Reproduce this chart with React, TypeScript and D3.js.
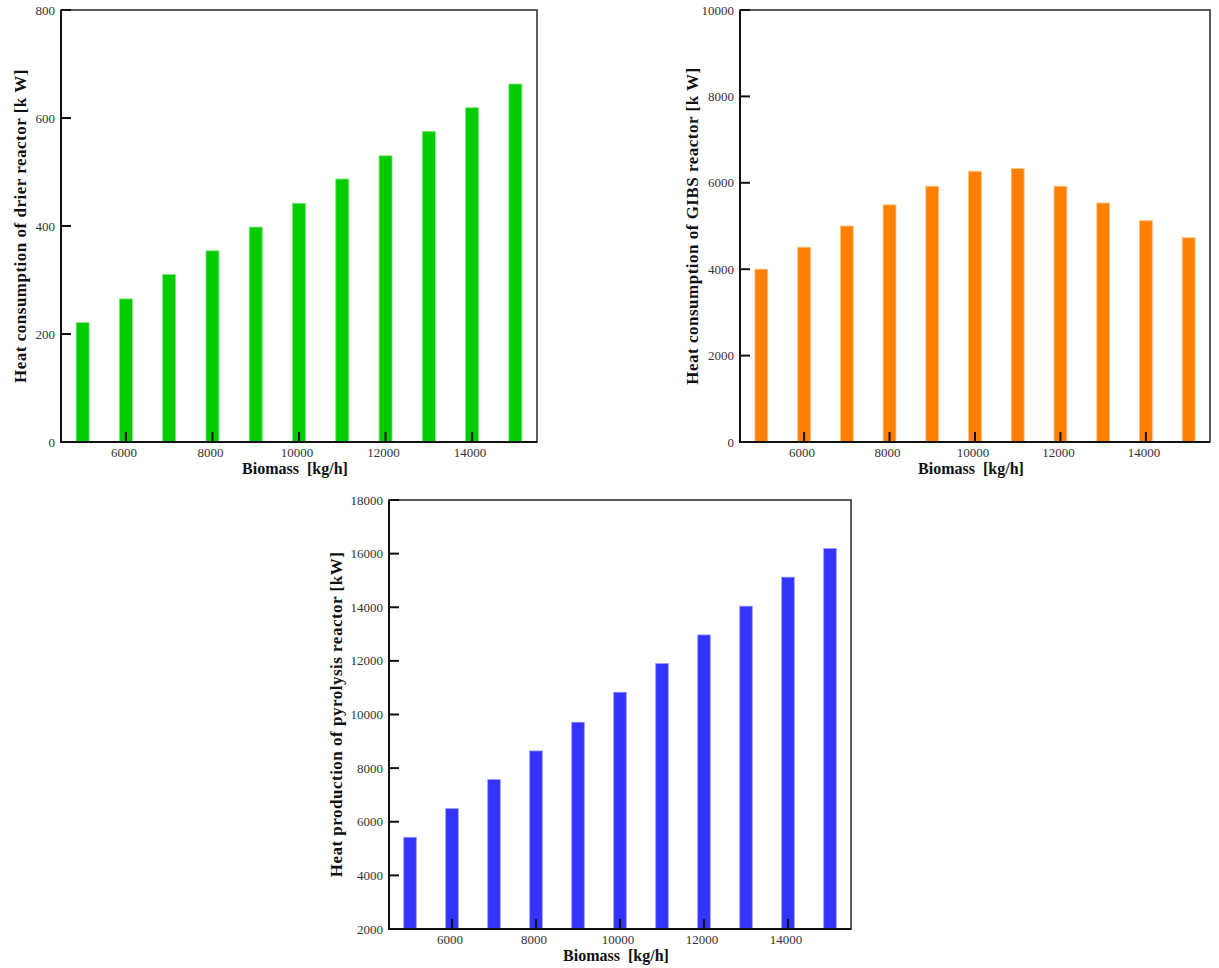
import React from "react";
import * as d3 from "d3";

const biomass = [5000, 6000, 7000, 8000, 9000, 10000, 11000, 12000, 13000, 14000, 15000];
const drierHeat = [221, 265, 310, 354, 398, 442, 487, 530, 575, 619, 663];
const gibbsHeat = [4000, 4510, 5000, 5490, 5920, 6267, 6327, 5920, 5532, 5122, 4728];
const pyrolysisHeat = [5421, 6489, 7571, 8641, 9712, 10831, 11899, 12969, 14040, 15122, 16189];

const xTicks = [6000, 8000, 10000, 12000, 14000];
const drierTicks = [0, 200, 400, 600, 800];
const gibbsTicks = [0, 2000, 4000, 6000, 8000, 10000];
const pyroTicks = [2000, 4000, 6000, 8000, 10000, 12000, 14000, 16000, 18000];

const xDomain: [number, number] = [4500, 15500];

type PanelProps = {
  left: number;
  top: number;
  right: number;
  bottom: number;
  values: number[];
  yDomain: [number, number];
  yTicks: number[];
  fill: string;
  edge: string;
  yLabel: string;
  yLabelX: number;
};

function Panel(p: PanelProps) {
  const x = d3.scaleLinear().domain(xDomain).range([p.left, p.right]);
  const y = d3.scaleLinear().domain(p.yDomain).range([p.bottom, p.top]);
  const halfW = 150;
  const font = "'Liberation Serif', 'Times New Roman', serif";
  const cx = (p.left + p.right) / 2;
  const cy = (p.top + p.bottom) / 2;
  return (
    <g>
      {biomass.map((b, i) => {
        const x0 = x(b - halfW);
        const x1 = x(b + halfW);
        const yt = y(p.values[i]);
        return (
          <rect
            key={b}
            x={x0}
            y={yt}
            width={x1 - x0}
            height={p.bottom - yt}
            fill={p.fill}
            stroke={p.edge}
            strokeWidth={0.8}
          />
        );
      })}
      <rect
        x={p.left}
        y={p.top}
        width={p.right - p.left}
        height={p.bottom - p.top}
        fill="none"
        stroke="#333"
        strokeWidth={1.6}
      />
      <line x1={p.left} x2={p.left} y1={p.top} y2={p.bottom + 1} stroke="#111" strokeWidth={2} />
      <line x1={p.left - 1} x2={p.right} y1={p.bottom} y2={p.bottom} stroke="#111" strokeWidth={2} />
      {p.yTicks.map((t) => (
        <g key={t}>
          <line x1={p.left} x2={p.left + 10} y1={y(t)} y2={y(t)} stroke="#111" strokeWidth={2} />
          <text
            x={p.left - 6}
            y={y(t)}
            dy="0.35em"
            textAnchor="end"
            fontFamily={font}
            fontSize={13}
            fill="#333"
          >
            {t}
          </text>
        </g>
      ))}
      {xTicks.map((t) => (
        <g key={t}>
          <line x1={x(t)} x2={x(t)} y1={p.bottom} y2={p.bottom - 10} stroke="#111" strokeWidth={2} />
          <text
            x={x(t) - 2}
            y={p.bottom + 15}
            textAnchor="middle"
            fontFamily={font}
            fontSize={13}
            fill="#333"
          >
            {t}
          </text>
        </g>
      ))}
      <text
        x={cx - 4}
        y={p.bottom + 32}
        textAnchor="middle"
        fontFamily={font}
        fontWeight="bold"
        fontSize={16}
        wordSpacing={4}
        fill="#111"
      >
        Biomass [kg/h]
      </text>
      <text
        transform={`translate(${p.yLabelX},${cy}) rotate(-90)`}
        dy="0.35em"
        textAnchor="middle"
        fontFamily={font}
        fontWeight="bold"
        fontSize={17}
        letterSpacing={0.5}
        fill="#111"
      >
        {p.yLabel}
      </text>
    </g>
  );
}

export default function App() {
  return (
    <svg
      width={1219}
      height={968}
      style={{ position: "absolute", left: 0, top: 0, background: "#fff" }}
    >
      <rect x={0} y={0} width={1219} height={968} fill="#fff" />
      <Panel
        left={61}
        top={10}
        right={537}
        bottom={442}
        values={drierHeat}
        yDomain={[0, 800]}
        yTicks={drierTicks}
        fill="#00cc00"
        edge="#7fe67f"
        yLabel="Heat consumption of drier reactor [k W]"
        yLabelX={20}
      />
      <Panel
        left={740}
        top={10}
        right={1210}
        bottom={442}
        values={gibbsHeat}
        yDomain={[0, 10000]}
        yTicks={gibbsTicks}
        fill="#ff8000"
        edge="#ffbf80"
        yLabel="Heat consumption of GIBS reactor [k W]"
        yLabelX={692}
      />
      <Panel
        left={389}
        top={500}
        right={851}
        bottom={929}
        values={pyrolysisHeat}
        yDomain={[2000, 18000]}
        yTicks={pyroTicks}
        fill="#3333ff"
        edge="#9999ff"
        yLabel="Heat production of pyrolysis reactor [kW]"
        yLabelX={336}
      />
    </svg>
  );
}
